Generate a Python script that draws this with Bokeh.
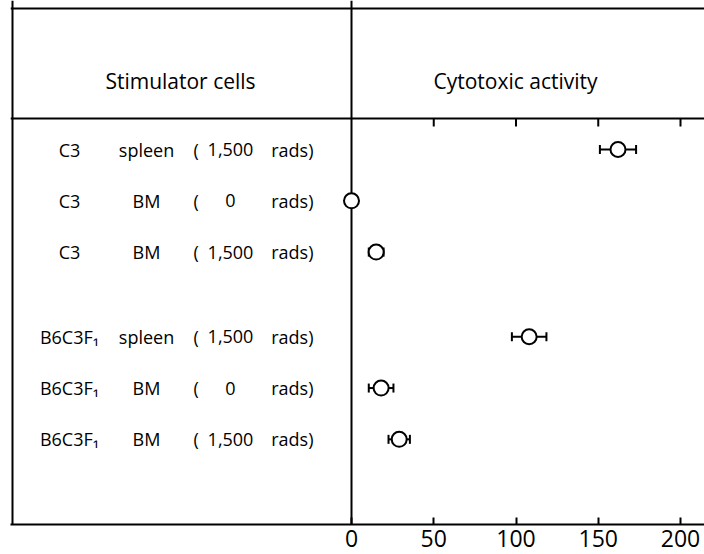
import numpy as np
from bokeh.plotting import figure
from bokeh.models import Range1d, Span, Whisker, TeeHead, ColumnDataSource, FixedTicker
from bokeh.core.properties import value
from bokeh.embed import file_html
from bokeh.resources import INLINE

# ---- data ----
strains = ["C3", "C3", "C3", "B6C3F\u2081", "B6C3F\u2081", "B6C3F\u2081"]
tissues = ["spleen", "BM", "BM", "spleen", "BM", "BM"]
doses = [1500, 0, 1500, 1500, 0, 1500]
activity = [162, 0, 15, 108, 18, 29]
error = [11, 0, 4.5, 10.5, 7.5, 6.5]
ticks = [0, 50, 100, 150, 200]
header_left = "Stimulator cells"
header_right = "Cytotoxic activity"

FONT = value("Open Sans")

# row positions: two groups of three, with a gap between groups
idx = np.arange(len(strains))
ypos = idx + (idx >= 3) * 0.65

W, H = 704, 554
SCALE = 1.645           # pixels per data unit horizontally
BORDER_L = 10
ZERO_PX = 351 - BORDER_L
PX = 1 / SCALE
FRAME_W = W - BORDER_L
x0 = -ZERO_PX * PX
x1 = x0 + FRAME_W * PX

YS = 51.3               # pixels per row unit
ROW0 = 149              # page y of first row
BORDER_B = 30
y_top = -ROW0 / YS
y_bot = (H - BORDER_B - ROW0) / YS

p = figure(width=W, height=H,
           x_range=Range1d(x0, x1), y_range=Range1d(y_bot, y_top),
           output_backend="svg", toolbar_location=None,
           min_border_left=BORDER_L, min_border_right=0, min_border_top=0,
           min_border_bottom=BORDER_B, y_axis_location=None)
p.grid.visible = False
p.outline_line_color = None
p.background_fill_color = "white"

ax = p.xaxis[0]
ax.ticker = FixedTicker(ticks=ticks)
ax.major_tick_in = 7
ax.major_tick_out = 0
ax.minor_tick_line_color = None
ax.axis_line_width = 2
ax.major_tick_line_width = 2
ax.axis_line_color = "black"
ax.major_tick_line_color = "black"
ax.major_label_text_font = "Open Sans"
ax.major_label_text_font_size = "23px"
ax.major_label_text_color = "black"
ax.major_label_standoff = 5

# frame lines
top_y = (8 - ROW0) / YS
header_y = (118 - ROW0) / YS
left_x = x0 + 2 * PX
for sp in [Span(location=top_y, dimension="width"),
           Span(location=header_y, dimension="width"),
           Span(location=left_x, dimension="height"),
           Span(location=0, dimension="height")]:
    sp.line_color = "black"
    sp.line_width = 2
    sp.level = "underlay"
    p.add_layout(sp)

# top ticks hanging from the header line
tick_len = 8 / YS
top_ticks = [t for t in ticks if t > 0]
p.segment(x0=top_ticks, y0=[header_y] * len(top_ticks), x1=top_ticks,
          y1=[header_y + tick_len] * len(top_ticks), line_color="black", line_width=2)

# headers
head_y = (80 - ROW0) / YS
p.text(x=[(180 - 351) * PX], y=[head_y], text=[header_left], text_align="center",
       text_baseline="middle", text_font=FONT, text_font_size="21px", text_color="black")
p.text(x=[(515 - 351) * PX], y=[head_y], text=[header_right], text_align="center",
       text_baseline="middle", text_font=FONT, text_font_size="21px", text_color="black")

# row labels
strain_x = (69 - 351) * PX
tissue_x = (146 - 351) * PX
paren_x = (193 - 351) * PX
num_x = (230 - 351) * PX
rads_x = (313 - 351) * PX

lab = dict(text_baseline="middle", text_font=FONT, text_font_size="18px", text_color="black")
n = len(strains)
p.text(x=[strain_x] * n, y=ypos, text=strains, text_align="center", **lab)
p.text(x=[tissue_x] * n, y=ypos, text=tissues, text_align="center", **lab)
p.text(x=[paren_x] * n, y=ypos, text=["("] * n, text_align="left", **lab)
p.text(x=[num_x] * n, y=ypos, text=[f"{d:,}" for d in doses], text_align="center", **lab)
p.text(x=[rads_x] * n, y=ypos, text=["rads)"] * n, text_align="right", **lab)

# data with error bars
act = np.array(activity, float)
err = np.array(error, float)
has = err > 0
wsrc = ColumnDataSource(dict(y=ypos[has], lo=(act - err)[has], hi=(act + err)[has]))
w = Whisker(source=wsrc, base="y", lower="lo", upper="hi", dimension="width",
            line_color="black", line_width=2,
            lower_head=TeeHead(size=9, line_width=2, line_color="black"),
            upper_head=TeeHead(size=9, line_width=2, line_color="black"))
w.level = "underlay"
p.add_layout(w)

p.scatter(x=activity, y=ypos, marker="circle", size=15, fill_color="white",
          line_color="black", line_width=2)

open("out.html", "w").write(file_html(p, INLINE))
